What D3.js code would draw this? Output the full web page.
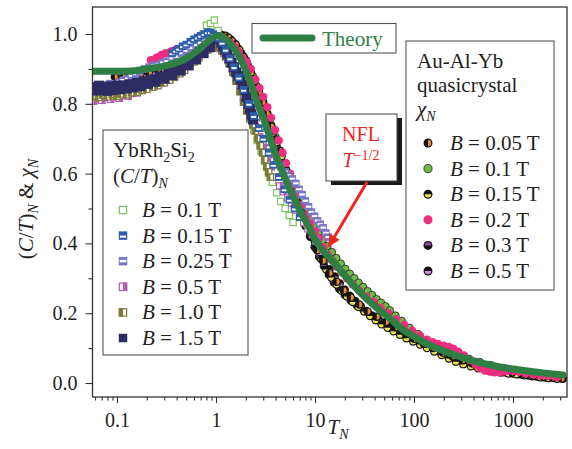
<!DOCTYPE html>
<html>
<head>
<meta charset="utf-8">
<script src="https://cdn.jsdelivr.net/npm/d3@7/dist/d3.min.js"></script>
<style>
  body { margin: 0; background: #fff; }
  text { font-family: "Liberation Serif", "Times New Roman", serif; fill: #222; }
</style>
</head>
<body>
<div id="chart-area"></div>
<script>
// ---- data: [T_N, value] ----
const theory = [[0.057,.893],[0.07,.893],[0.1,.893],[0.15,.895],[0.2,.9],[0.3,.908],[0.4,.918],[0.5,.93],[0.6,.945],[0.7,.96],[0.8,.975],[0.9,.987],[1.0,.994],[1.1,.995],[1.2,.99],[1.4,.972],[1.6,.95],[1.8,.925],[2.0,.895],[2.3,.85],[2.6,.805],[3.0,.76],[3.5,.705],[4.0,.655],[4.7,.605],[5.5,.558],[6.3,.524],[7.5,.48],[8.5,.452],[10,.412],[12,.38],[15,.35],[20,.308],[25,.277],[33,.242],[45,.208],[60,.18],[72,.16],[100,.133],[150,.106],[200,.092],[300,.074],[500,.056],[740,.046],[1000,.04],[1600,.032],[2000,.029],[3200,.023]];

// YbRh2Si2 (C/T)_N
const yb01 = [[0.55,.955],[0.62,.965],[0.68,.975],[0.74,1.0],[0.8,1.025],[0.84,.96],[0.88,1.03],[0.92,.985],[0.96,1.04],[1.0,.99],[1.05,1.01],[1.1,.975],[1.16,.985],[1.22,.955],[1.3,.945],[1.4,.92],[1.5,.9],[1.62,.87],[1.75,.845],[1.9,.815],[2.05,.78],[2.2,.755],[2.4,.725],[2.6,.695],[2.85,.665],[3.1,.635],[3.4,.6],[3.7,.575],[4.1,.545],[4.5,.52],[5,.5],[5.5,.48],[6,.46]];
const yb015 = [[0.36,.945],[0.39,.952],[0.42,.958],[0.46,.965],[0.5,.97],[0.55,.978],[0.6,.985],[0.65,.99],[0.7,.995],[0.76,1.0],[0.82,1.005],[0.88,1.005],[0.94,1.0],[1.0,.995],[1.07,.988],[1.15,.975],[1.25,.955],[1.38,.93],[1.52,.905],[1.7,.875],[1.9,.84],[2.15,.8],[2.4,.765],[2.7,.73],[3.0,.7],[3.4,.66],[3.8,.625],[4.3,.59],[4.9,.555],[5.5,.525],[6.2,.5],[7,.475]];
const yb025 = [[0.075,.852],[0.085,.858],[0.095,.855],[0.105,.862],[0.115,.868],[0.128,.872],[0.14,.88],[0.155,.885],[0.17,.893],[0.19,.9],[0.21,.905],[0.235,.91],[0.26,.912],[0.29,.918],[0.32,.922],[0.36,.93],[0.4,.935],[0.45,.945],[0.5,.952],[0.56,.96],[0.63,.968],[0.7,.975],[0.78,.982],[0.86,.985],[0.95,.985],[1.05,.978],[1.15,.965],[1.27,.945],[1.4,.925],[1.55,.9],[1.7,.875],[1.9,.845],[2.1,.815],[2.3,.79],[2.55,.76],[2.8,.73],[3.1,.7],[3.4,.675],[3.7,.655],[4.1,.635],[4.5,.62],[5.0,.605],[5.4,.595],[5.9,.585],[6.4,.572],[6.9,.555],[7.4,.54],[8.0,.522],[8.6,.505],[9.2,.49],[9.9,.478],[10.6,.465],[11.3,.455],[12.1,.445],[12.9,.43],[13.6,.418]];
const yb05 = [[0.058,.808],[0.064,.815],[0.07,.81],[0.078,.818],[0.086,.813],[0.095,.82],[0.105,.816],[0.116,.824],[0.13,.822],[0.145,.83],[0.16,.832],[0.18,.84],[0.2,.845],[0.23,.85],[0.26,.856],[0.3,.862],[0.34,.87],[0.38,.878],[0.43,.888],[0.48,.898],[0.54,.91],[0.6,.922],[0.67,.934],[0.75,.945],[0.83,.955],[0.92,.96],[1.0,.962],[1.1,.958],[1.2,.945],[1.32,.925],[1.45,.9],[1.6,.875],[1.75,.85],[1.9,.82],[2.1,.79],[2.3,.76],[2.5,.735],[2.75,.705],[3.0,.675],[3.3,.645],[3.6,.62],[4.0,.59],[4.4,.565],[4.8,.548],[5.3,.53],[5.8,.515],[6.4,.495],[7.0,.478],[7.7,.46],[8.5,.442],[9.4,.425],[10.3,.41]];
const yb10 = [[0.058,.822],[0.065,.818],[0.072,.825],[0.08,.82],[0.09,.826],[0.1,.822],[0.11,.828],[0.125,.826],[0.14,.832],[0.16,.833],[0.18,.838],[0.2,.842],[0.23,.848],[0.26,.852],[0.3,.86],[0.34,.868],[0.38,.876],[0.43,.886],[0.48,.896],[0.54,.908],[0.6,.92],[0.67,.932],[0.74,.944],[0.82,.955],[0.9,.962],[0.98,.965],[1.06,.962],[1.15,.952],[1.25,.935],[1.36,.915],[1.48,.89],[1.6,.865],[1.75,.835],[1.9,.805],[2.05,.78],[2.2,.76],[2.35,.74],[2.5,.722],[2.65,.7],[2.8,.68],[2.95,.66],[3.1,.64],[3.25,.62],[3.4,.605],[3.55,.59]];
const yb15 = [[0.058,.848],[0.062,.838],[0.066,.852],[0.07,.84],[0.075,.849],[0.08,.837],[0.086,.85],[0.092,.84],[0.1,.851],[0.108,.842],[0.117,.853],[0.126,.844],[0.136,.856],[0.147,.847],[0.16,.86],[0.173,.851],[0.188,.865],[0.205,.857],[0.225,.87],[0.245,.863],[0.27,.878],[0.3,.872],[0.33,.888],[0.36,.882],[0.4,.9],[0.44,.895],[0.48,.915],[0.53,.91],[0.58,.93],[0.63,.927],[0.69,.948],[0.75,.945],[0.81,.965],[0.87,.962],[0.93,.985],[0.98,.99],[1.03,.99],[1.08,.985],[1.13,.975],[1.18,.965],[1.24,.955],[1.3,.943],[1.37,.93],[1.44,.918],[1.52,.905],[1.6,.89],[1.68,.88],[1.76,.87],[1.85,.855],[1.94,.84],[2.03,.82],[2.12,.8],[2.2,.785],[2.28,.77],[2.36,.755]];

// Au-Al-Yb quasicrystal chi_N
const aa005 = [[0.095,.877],[0.115,.876],[0.14,.879],[0.17,.883],[0.21,.89],[0.26,.9],[0.33,.915],[0.42,.935],[0.52,.952],[0.62,.965],[0.72,.975],[0.82,.985],[0.92,.99],[1.02,.995],[1.12,.997],[1.22,.995],[1.33,.99],[1.45,.98],[1.58,.97],[1.72,.955],[1.88,.935],[2.05,.915],[2.25,.89],[2.45,.865],[2.7,.835],[2.95,.805],[3.25,.772],[3.6,.735],[4.0,.698],[4.4,.665],[4.9,.628],[5.5,.59],[6.2,.55],[7.0,.505],[8.0,.46],[9.2,.418],[10.5,.38],[12,.35],[14,.315],[16.5,.29],[19.5,.265],[23,.245],[28,.225],[34,.205],[42,.19],[52,.175],[65,.16],[80,.147],[100,.127],[125,.113],[155,.1],[195,.087],[245,.076],[310,.065],[390,.056],[490,.048],[620,.041],[780,.035],[980,.03],[1250,.025],[1600,.021],[2000,.018],[2500,.015],[3100,.013]];
const aa01 = [[0.8,.985],[0.95,.995],[1.1,1.0],[1.25,.995],[1.4,.985],[1.55,.97],[1.7,.955],[1.9,.935],[2.1,.91],[2.35,.88],[2.6,.85],[2.9,.815],[3.2,.78],[3.6,.74],[4.0,.705],[4.5,.665],[5.0,.63],[5.6,.595],[6.3,.56],[7.0,.53],[7.8,.5],[8.7,.475],[9.7,.452],[10.8,.43],[12,.41],[13.3,.392],[14.8,.375],[16.4,.358],[18.2,.342],[20.2,.327],[22.4,.313],[24.9,.3],[27.6,.287],[30.6,.275],[34,.263],[37.7,.252],[41.8,.24],[46.4,.23],[51.5,.22],[57,.208],[65,.193],[75,.178],[90,.158],[110,.14],[135,.123],[170,.106],[220,.092],[280,.08],[360,.069],[460,.06],[600,.051],[800,.043],[1050,.037],[1400,.031],[1900,.026],[2600,.021]];
const aa015 = [[0.9,.985],[1.05,.99],[1.2,.99],[1.35,.985],[1.5,.975],[1.65,.96],[1.8,.945],[2.0,.925],[2.2,.9],[2.45,.87],[2.7,.84],[3.0,.805],[3.3,.772],[3.7,.73],[4.1,.69],[4.6,.65],[5.1,.612],[5.7,.572],[6.4,.53],[7.2,.49],[8.1,.452],[9.1,.418],[10.2,.385],[11.5,.355],[13,.325],[14.6,.302],[16.5,.282],[18.6,.264],[21,.248],[24,.232],[27.5,.218],[31.5,.205],[36,.192],[41,.18],[47,.168],[54,.158],[62,.148],[72,.138],[84,.128],[98,.119],[115,.11],[135,.1],[160,.09],[190,.08],[225,.07],[265,.061],[315,.054],[375,.048],[445,.042],[530,.037],[630,.033],[750,.03],[900,.027],[1080,.025],[1300,.022],[1560,.019],[1900,.016],[2300,.014],[2800,.012]];
const aa02 = [[0.22,.925],[0.25,.932],[0.28,.94],[0.31,.945],[0.35,.95],[0.39,.955],[0.43,.958],[1.4,.975],[1.55,.962],[1.7,.948],[1.87,.93],[2.05,.92],[2.25,.9],[2.5,.87],[2.75,.845],[3.0,.82],[3.3,.79],[3.6,.76],[3.95,.725],[4.3,.695],[4.7,.66],[5.1,.63],[5.6,.6],[6.1,.57],[6.7,.54],[7.4,.51],[8.2,.48],[9,.458],[10,.435],[11,.415],[12.2,.39],[13.5,.368],[15,.35],[16.6,.333],[18.5,.318],[21,.3],[24,.283],[28,.265],[33,.248],[39,.232],[46,.216],[55,.2],[66,.183],[80,.166],[96,.15],[115,.136],[135,.124],[155,.117],[175,.112],[200,.107],[225,.103],[250,.098],[280,.09],[320,.079],[370,.065],[420,.052],[470,.042],[520,.036],[580,.033],[650,.031],[720,.031],[800,.033],[900,.035],[1000,.035],[1150,.032],[1350,.028],[1600,.025],[1900,.022],[2300,.02],[2800,.017]];
const aa03 = [[0.1,.872],[0.13,.874],[0.17,.879],[0.22,.887],[0.28,.897],[0.35,.91],[0.45,.93],[0.55,.948],[0.65,.962],[0.75,.975],[0.85,.985],[0.95,.992],[1.05,.996],[1.15,.995],[1.28,.99],[1.4,.982],[1.53,.972],[1.67,.958],[1.82,.94],[1.98,.92],[2.15,.897],[2.35,.87],[2.55,.843],[2.8,.812],[3.05,.782],[3.35,.75],[3.65,.718],[4.0,.685],[4.4,.65],[4.85,.615],[5.3,.582],[5.85,.55],[6.5,.515],[7.2,.482],[8.0,.45],[8.9,.42],[9.9,.39],[11,.362],[12.3,.335],[13.8,.31],[15.5,.288],[17.5,.27],[20,.252],[23,.236],[26.5,.222],[31,.208],[36,.195],[42,.183],[49,.172],[57,.162],[67,.152],[79,.142],[93,.132],[110,.122],[130,.112],[155,.101],[185,.09],[220,.08],[265,.07],[320,.062],[385,.054],[460,.047],[550,.041],[660,.036],[800,.031],[960,.028],[1150,.025],[1400,.022],[1700,.019],[2100,.016],[2600,.014],[3200,.012]];
const aa05 = [[0.12,.875],[0.15,.877],[0.19,.882],[0.24,.89],[0.3,.9],[0.38,.918],[0.48,.938],[0.58,.955],[0.68,.968],[0.78,.978],[0.88,.987],[0.98,.993],[1.08,.996],[1.18,.993],[1.3,.987],[1.42,.978],[1.56,.966],[1.7,.952],[1.85,.934],[2.0,.915],[2.2,.89],[2.4,.862],[2.62,.834],[2.86,.805],[3.12,.775],[3.4,.745],[3.72,.712],[4.1,.678],[4.5,.645],[4.95,.612],[5.45,.58],[6.0,.548],[6.6,.518],[7.3,.488],[8.1,.458],[9,.43],[10,.403],[11.2,.375],[12.5,.35],[14,.326],[15.8,.305],[17.8,.285],[20,.267],[22.5,.25],[25.5,.235],[29,.22],[33,.206],[38,.193],[44,.181],[51,.17],[60,.16],[70,.15],[82,.14],[96,.13],[112,.12],[132,.11],[155,.1],[180,.09],[215,.081],[255,.072],[300,.064],[355,.057],[420,.05],[500,.044],[600,.039],[720,.034],[860,.03],[1030,.027],[1240,.024],[1500,.021],[1800,.018],[2200,.016],[2700,.014]];

const ybLabels = ["0.1", "0.15", "0.25", "0.5", "1.0", "1.5"];
const aaLabels = ["0.05", "0.1", "0.15", "0.2", "0.3", "0.5"];
const xTicks = [0.1, 1, 10, 100, 1000];
const yTicks = [0, 0.2, 0.4, 0.6, 0.8, 1.0];
const yMinor = [0.1, 0.3, 0.5, 0.7, 0.9];

// ---- layout ----
const W = 572, H = 449;
const svg = d3.select("#chart-area").append("svg")
  .attr("width", W).attr("height", H);

const x = d3.scaleLog().domain([0.05654, 3512]).range([92.5, 567]);
const y = d3.scaleLinear().domain([-0.0401, 1.0774]).range([397, 7]);

const green = "#2f7f45", red = "#ee2424";

svg.append("clipPath").attr("id", "plotclip")
  .append("rect").attr("x", 92.5).attr("y", 7).attr("width", 474.5).attr("height", 390);

// minor ticks on x
let xMinor = [];
for (let e = -2; e <= 3; e++) {
  for (let m = 2; m <= 9; m++) {
    const v = m * Math.pow(10, e);
    if (v > 0.05654 && v < 3512) xMinor.push(v);
  }
}

const xAxis = svg.append("g").attr("transform", "translate(0,397)")
  .call(d3.axisBottom(x).tickValues(xTicks).tickFormat(d => d < 1 ? d3.format(".1f")(d) : d).tickSize(6).tickPadding(10).tickSizeOuter(0));
const xAxisMinor = svg.append("g").attr("transform", "translate(0,397)")
  .call(d3.axisBottom(x).tickValues(xMinor).tickFormat("").tickSize(3.5).tickSizeOuter(0));
const yAxis = svg.append("g").attr("transform", "translate(92.5,0)")
  .call(d3.axisLeft(y).tickValues(yTicks).tickFormat(d3.format(".1f")).tickSize(7).tickPadding(8).tickSizeOuter(0));
const yAxisMinor = svg.append("g").attr("transform", "translate(92.5,0)")
  .call(d3.axisLeft(y).tickValues(yMinor).tickFormat("").tickSize(4).tickSizeOuter(0));

[xAxis, xAxisMinor, yAxis, yAxisMinor].forEach(a => {
  a.attr("font-family", null);
  a.select(".domain").remove();
  a.selectAll("line").attr("stroke", "#333").attr("stroke-width", 1.1);
  a.selectAll("text").attr("font-size", 20).attr("fill", "#222")
    .style("font-family", "'Liberation Serif', serif");
});

// ---- markers ----
const plot = svg.append("g").attr("clip-path", "url(#plotclip)");

function drawSquare(g, kind, s) {
  const h = s / 2;
  if (kind === "b01") {
    g.append("rect").attr("x", -h + 0.6).attr("y", -h + 0.6).attr("width", s - 1.2).attr("height", s - 1.2)
      .attr("fill", "#fff").attr("stroke", "#7cc45c").attr("stroke-width", 1.2);
  } else if (kind === "b015") {
    g.append("rect").attr("x", -h).attr("y", -h).attr("width", s).attr("height", s).attr("fill", "#2e5fae");
    g.append("rect").attr("x", -h + 1.2).attr("y", 0).attr("width", s - 2.4).attr("height", s * 0.25).attr("fill", "#fff");
  } else if (kind === "b025") {
    g.append("rect").attr("x", -h).attr("y", -h).attr("width", s).attr("height", s).attr("fill", "#7878c6");
    g.append("rect").attr("x", -h + 1).attr("y", -s * 0.15).attr("width", s - 2).attr("height", s * 0.28).attr("fill", "#fff");
  } else if (kind === "b05") {
    g.append("rect").attr("x", -h + 0.6).attr("y", -h + 0.6).attr("width", s - 1.2).attr("height", s - 1.2)
      .attr("fill", "#fff").attr("stroke", "#b45db5").attr("stroke-width", 1.2);
    g.append("rect").attr("x", 0).attr("y", -h).attr("width", h).attr("height", s).attr("fill", "#b45db5");
  } else if (kind === "b10") {
    g.append("rect").attr("x", -h + 0.6).attr("y", -h + 0.6).attr("width", s - 1.2).attr("height", s - 1.2)
      .attr("fill", "#fff").attr("stroke", "#7d7a33").attr("stroke-width", 1.2);
    g.append("rect").attr("x", -h).attr("y", -h).attr("width", h).attr("height", s).attr("fill", "#7d7a33");
  } else {
    g.append("rect").attr("x", -h).attr("y", -h).attr("width", s).attr("height", s).attr("fill", "#2d2c63");
  }
}

const halfArc = (r, a0, a1) => d3.arc().innerRadius(0).outerRadius(r).startAngle(a0).endAngle(a1)();

function drawCircle(g, kind, r) {
  const P = Math.PI;
  if (kind === "c01") {
    g.append("circle").attr("r", r - 0.4).attr("fill", "#6dbd45").attr("stroke", "#1a1a1a").attr("stroke-width", 0.8);
  } else if (kind === "c02") {
    g.append("circle").attr("r", r).attr("fill", "#ee2d7e");
  } else {
    g.append("circle").attr("r", r).attr("fill", "#141414");
    let col, a0, a1;
    if (kind === "c005") { col = "#ef8a2e"; a0 = 0; a1 = P; }
    if (kind === "c015") { col = "#f1e04a"; a0 = P / 2; a1 = 3 * P / 2; }
    if (kind === "c03") { col = "#8c4a9e"; a0 = -P / 2; a1 = P / 2; }
    if (kind === "c05") { col = "#c690d2"; a0 = P / 2; a1 = 3 * P / 2; }
    g.append("path").attr("d", halfArc(r * 0.72, a0, a1)).attr("fill", col);
  }
}

// legend order (top to bottom)
const squareSets = [
  { data: yb01, kind: "b01", size: 7.5 },
  { data: yb015, kind: "b015", size: 7.5 },
  { data: yb025, kind: "b025", size: 7.5 },
  { data: yb05, kind: "b05", size: 7.5 },
  { data: yb10, kind: "b10", size: 7.5 },
  { data: yb15, kind: "b15", size: 10 }
];
const circleSets = [
  { data: aa005, kind: "c005" },
  { data: aa01, kind: "c01" },
  { data: aa015, kind: "c015" },
  { data: aa02, kind: "c02" },
  { data: aa03, kind: "c03" },
  { data: aa05, kind: "c05" }
];

// draw order: circles underneath, then squares
const circleDraw = [1, 4, 5, 2, 0, 3];
const squareDraw = [0, 2, 3, 4, 5, 1];

function plotSet(set, fn) {
  plot.append("g").selectAll("g").data(set.data).enter().append("g")
    .attr("transform", d => "translate(" + x(d[0]) + "," + y(d[1]) + ")")
    .each(function () { fn(d3.select(this), set); });
}
circleDraw.forEach(i => plotSet(circleSets[i], (g, s) => drawCircle(g, s.kind, 4.2)));
squareDraw.forEach(i => plotSet(squareSets[i], (g, s) => drawSquare(g, s.kind, s.size)));

// theory curve
const line = d3.line().x(d => x(d[0])).y(d => y(d[1])).curve(d3.curveMonotoneX);
plot.append("path").datum(theory).attr("d", line)
  .attr("fill", "none").attr("stroke", green).attr("stroke-width", 7).attr("stroke-linecap", "round");

// frame
svg.append("rect").attr("x", 92.5).attr("y", 7).attr("width", 474.5).attr("height", 390)
  .attr("fill", "none").attr("stroke", "#333").attr("stroke-width", 1.3);

// ---- axis titles ----
const sub = (t, str) => t.append("tspan").attr("font-size", 14).attr("font-style", "italic").attr("dy", 5).text(str);
const up = (t, str, style) => t.append("tspan").attr("dy", -5).attr("font-style", style || "normal").text(str);

const yl = svg.append("text").attr("transform", "translate(33,209) rotate(-90)")
  .attr("text-anchor", "middle").attr("font-size", 21);
yl.append("tspan").text("(");
yl.append("tspan").attr("font-style", "italic").text("C");
yl.append("tspan").text("/");
yl.append("tspan").attr("font-style", "italic").text("T");
yl.append("tspan").text(")");
sub(yl, "N");
up(yl, " & ");
yl.append("tspan").attr("font-style", "italic").text("χ");
sub(yl, "N");

const xl = svg.append("text").attr("x", 338).attr("y", 434).attr("text-anchor", "middle").attr("font-size", 21);
xl.append("tspan").attr("font-style", "italic").text("T");
sub(xl, "N");

// ---- Theory legend ----
svg.append("rect").attr("x", 252).attr("y", 23.5).attr("width", 144).attr("height", 29.5)
  .attr("fill", "#fff").attr("stroke", "#555").attr("stroke-width", 1.1);
svg.append("line").attr("x1", 263).attr("x2", 312).attr("y1", 38).attr("y2", 38)
  .attr("stroke", green).attr("stroke-width", 7).attr("stroke-linecap", "round");
svg.append("text").attr("x", 322).attr("y", 45.5).attr("font-size", 21)
  .style("fill", green).text("Theory");

// ---- YbRh2Si2 legend ----
svg.append("rect").attr("x", 103).attr("y", 130).attr("width", 145).attr("height", 225)
  .attr("fill", "#fff").attr("stroke", "#555").attr("stroke-width", 1.1);
const t1 = svg.append("text").attr("x", 113).attr("y", 157).attr("font-size", 21);
t1.append("tspan").text("YbRh");
t1.append("tspan").attr("font-size", 14).attr("dy", 5).text("2");
t1.append("tspan").attr("dy", -5).text("Si");
t1.append("tspan").attr("font-size", 14).attr("dy", 5).text("2");
const t2 = svg.append("text").attr("x", 113).attr("y", 183).attr("font-size", 21);
t2.append("tspan").text("(");
t2.append("tspan").attr("font-style", "italic").text("C");
t2.append("tspan").text("/");
t2.append("tspan").attr("font-style", "italic").text("T");
t2.append("tspan").text(")");
sub(t2, "N");

function legendRow(cx, tx, cy, label, drawFn) {
  const g = svg.append("g").attr("transform", "translate(" + cx + "," + cy + ")");
  drawFn(g);
  const t = svg.append("text").attr("x", tx).attr("y", cy + 7).attr("font-size", 21);
  t.append("tspan").attr("font-style", "italic").text("B");
  t.append("tspan").text(" = " + label + " T");
}
squareSets.forEach((set, i) => {
  legendRow(123, 142, 210 + i * 25.6, ybLabels[i], g => drawSquare(g, set.kind, 8.5));
});

// ---- Au-Al-Yb legend ----
svg.append("rect").attr("x", 406).attr("y", 41).attr("width", 148).attr("height", 249)
  .attr("fill", "#fff").attr("stroke", "#555").attr("stroke-width", 1.1);
svg.append("text").attr("x", 417).attr("y", 68).attr("font-size", 21).text("Au-Al-Yb");
svg.append("text").attr("x", 417).attr("y", 92).attr("font-size", 21).text("quasicrystal");
const t3 = svg.append("text").attr("x", 417).attr("y", 116).attr("font-size", 21);
t3.append("tspan").attr("font-style", "italic").text("χ");
sub(t3, "N");
circleSets.forEach((set, i) => {
  legendRow(428, 450, 143 + i * 25.6, aaLabels[i], g => drawCircle(g, set.kind, 4.5));
});

// ---- NFL annotation ----
svg.append("rect").attr("x", 331).attr("y", 118).attr("width", 71).attr("height", 67).attr("fill", "#1a1a1a");
svg.append("rect").attr("x", 326).attr("y", 114).attr("width", 71).attr("height", 67)
  .attr("fill", "#fff").attr("stroke", "#444").attr("stroke-width", 1);
svg.append("text").attr("x", 361).attr("y", 141).attr("text-anchor", "middle").attr("font-size", 20)
  .style("fill", red).text("NFL");
const t4 = svg.append("text").attr("x", 361).attr("y", 167).attr("text-anchor", "middle").attr("font-size", 20).style("fill", red);
t4.append("tspan").attr("font-style", "italic").text("T");
t4.append("tspan").attr("font-size", 14).attr("dy", -7).text("−1/2");

svg.append("defs").append("marker").attr("id", "arrow")
  .attr("viewBox", "0 0 10 10").attr("refX", 9).attr("refY", 5)
  .attr("markerWidth", 4.5).attr("markerHeight", 4).attr("orient", "auto")
  .attr("markerUnits", "strokeWidth")
  .append("path").attr("d", "M0,0 L10,5 L0,10 z").attr("fill", red);
svg.append("line").attr("x1", 367).attr("y1", 182).attr("x2", 329).attr("y2", 246)
  .attr("stroke", red).attr("stroke-width", 3).attr("marker-end", "url(#arrow)");
</script>
</body>
</html>
